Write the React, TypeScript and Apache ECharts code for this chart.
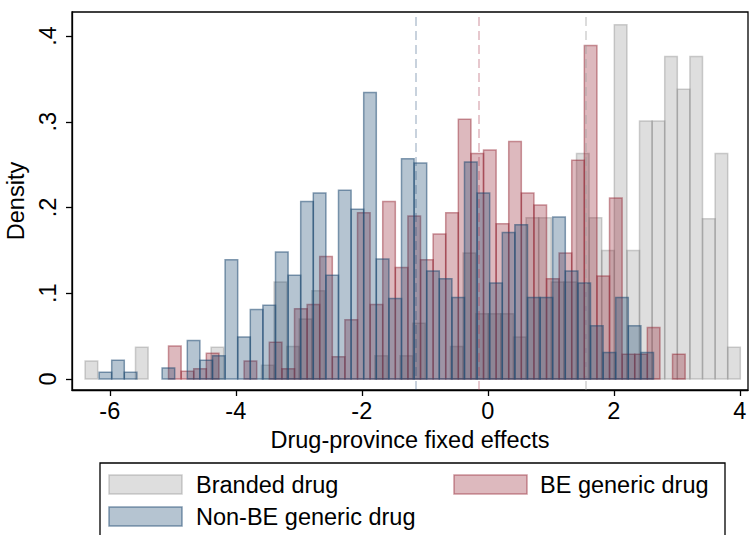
import React, { useEffect, useRef } from "react";
import * as echarts from "echarts";

// Histogram densities (bin width 0.2) for each drug group
const binWidth = 0.2;

const brandedStart = -6.392;
const brandedDensity = [
  0.021, 0, 0, 0, 0.037, 0, 0, 0, 0, 0,
  0.037, 0, 0, 0, 0.016, 0.113, 0.038, 0.07, 0.103, 0,
  0, 0, 0, 0.027, 0, 0.027, 0.065, 0, 0, 0.038,
  0.147, 0.076, 0.076, 0.076, 0.049, 0.188, 0.188, 0.113, 0.113, 0.263,
  0.188, 0.15, 0.413, 0.15, 0.301, 0.301, 0.376, 0.338, 0.376, 0.187,
  0.263, 0.037,
];

const beStart = -5.068;
const beDensity = [
  0.0385, 0.009, 0.012, 0.03, 0, 0, 0.021, 0, 0.043, 0.012,
  0.082, 0.087, 0.143, 0.026, 0.069, 0.194, 0.087, 0.207, 0.13, 0.19,
  0.139, 0.169, 0.194, 0.303, 0.263, 0.267, 0.181, 0.277, 0.217, 0.203,
  0.117, 0.147, 0.255, 0.389, 0.12, 0.211, 0.029, 0.029, 0.06, 0,
  0.029,
];

const nonBeStart = -6.17;
const nonBeDensity = [
  0.008, 0.022, 0.008, 0, 0, 0.013, 0, 0.045, 0.022, 0.027,
  0.139, 0.049, 0.081, 0.086, 0.148, 0.121, 0.207, 0.217, 0.121, 0.22,
  0.198, 0.334, 0.14, 0.094, 0.257, 0.252, 0.126, 0.117, 0.095, 0.253,
  0.217, 0.112, 0.171, 0.18, 0.095, 0.095, 0.189, 0.126, 0.112, 0.062,
  0.031, 0.095, 0.062, 0.031,
];

// Group means (dashed reference lines)
const brandedMean = 1.556;
const beMean = -0.138;
const nonBeMean = -1.154;

const xTicks = [-6, -4, -2, 0, 2, 4];
const yTicks = [0, 0.1, 0.2, 0.3, 0.4];

const FONT = "'Liberation Sans', Arial, Helvetica, sans-serif";

const GREY_FILL = "rgba(128,128,128,0.26)";
const GREY_LINE = "rgba(128,128,128,0.36)";
const GREY_MEAN = "rgba(160,160,160,0.45)";
const RED_FILL = "rgba(145,30,45,0.31)";
const RED_LINE = "rgba(145,30,45,0.45)";
const RED_MEAN = "rgba(170,60,80,0.35)";
const BLUE_FILL = "rgba(26,71,111,0.32)";
const BLUE_LINE = "rgba(26,71,111,0.52)";
const BLUE_MEAN = "rgba(26,71,111,0.3)";

function histSeries(
  name: string,
  start: number,
  dens: number[],
  fill: string,
  stroke: string,
  mean: number,
  meanColor: string
) {
  const data = dens.map((d, i) => [start + i * binWidth, start + (i + 1) * binWidth, d]);
  return {
    type: "custom",
    name,
    data,
    encode: { x: [0, 1], y: 2 },
    clip: true,
    renderItem: (_params: any, api: any) => {
      const x0 = api.value(0);
      const x1 = api.value(1);
      const y = api.value(2);
      if (!(y > 0)) return { type: "group", children: [] };
      const p0 = api.coord([x0, y]);
      const p1 = api.coord([x1, 0]);
      return {
        type: "rect",
        shape: { x: p0[0], y: p0[1], width: p1[0] - p0[0], height: p1[1] - p0[1] },
        style: { fill, stroke, lineWidth: 1.5 },
      };
    },
    markLine: {
      silent: true,
      symbol: "none",
      label: { show: false },
      lineStyle: { color: meanColor, type: [9, 5], width: 1.6 },
      data: [{ xAxis: mean }],
    },
  };
}

export default function App() {
  const ref = useRef<HTMLDivElement>(null);

  useEffect(() => {
    if (!ref.current) return;
    const chart = echarts.init(ref.current, undefined, { renderer: "svg" });
    const labelText = { fontFamily: FONT, fontSize: 23.5, color: "#000" };
    const legendFont = `23.5px ${FONT}`;

    chart.setOption({
      animation: false,
      backgroundColor: "#fff",
      grid: {
        left: 72,
        right: 3,
        top: 12,
        bottom: 145,
        containLabel: false,
        outerBoundsMode: "none",
        show: true,
        borderColor: "#000",
        borderWidth: 1.3,
        backgroundColor: "transparent",
      },
      xAxis: {
        type: "value",
        min: -6.6,
        max: 4.13,
        name: "Drug-province fixed effects",
        nameLocation: "middle",
        nameGap: 37,
        nameTextStyle: { ...labelText },
        axisLine: { show: true, onZero: false, lineStyle: { color: "#000", width: 1.3 } },
        axisTick: { show: true, length: 6, customValues: xTicks, lineStyle: { color: "#000", width: 1.3 } },
        axisLabel: { ...labelText, margin: 9, customValues: xTicks, formatter: (v: number) => String(v) },
        splitLine: { show: false },
      },
      yAxis: {
        type: "value",
        min: -0.0128,
        max: 0.428,
        name: "Density",
        nameLocation: "middle",
        nameGap: 30,
        nameRotate: 90,
        nameTextStyle: { ...labelText },
        axisLine: { show: true, onZero: false, lineStyle: { color: "#000", width: 1.3 } },
        axisTick: { show: true, length: 6, customValues: yTicks, lineStyle: { color: "#000", width: 1.3 } },
        axisLabel: {
          ...labelText,
          rotate: 90,
          margin: 12,
          customValues: yTicks,
          formatter: (v: number) => (v === 0 ? "0" : v.toFixed(1).replace(/^0/, "")),
        },
        splitLine: { show: false },
      },
      series: [
        histSeries("Branded drug", brandedStart, brandedDensity, GREY_FILL, GREY_LINE, brandedMean, GREY_MEAN),
        histSeries("BE generic drug", beStart, beDensity, RED_FILL, RED_LINE, beMean, RED_MEAN),
        histSeries("Non-BE generic drug", nonBeStart, nonBeDensity, BLUE_FILL, BLUE_LINE, nonBeMean, BLUE_MEAN),
      ],
      graphic: [
        { type: "rect", shape: { x: 100, y: 463, width: 625, height: 100 }, style: { fill: "#fff", stroke: "#000", lineWidth: 1.3 } },
        { type: "rect", shape: { x: 109, y: 475, width: 73, height: 19 }, style: { fill: GREY_FILL, stroke: GREY_LINE, lineWidth: 1.5 } },
        { type: "text", x: 196, y: 485, style: { text: "Branded drug", font: legendFont, fill: "#000", verticalAlign: "middle" } },
        { type: "rect", shape: { x: 454, y: 475, width: 73, height: 19 }, style: { fill: RED_FILL, stroke: RED_LINE, lineWidth: 1.5 } },
        { type: "text", x: 540, y: 485, style: { text: "BE generic drug", font: legendFont, fill: "#000", verticalAlign: "middle" } },
        { type: "rect", shape: { x: 109, y: 507, width: 73, height: 19 }, style: { fill: BLUE_FILL, stroke: BLUE_LINE, lineWidth: 1.5 } },
        { type: "text", x: 196, y: 517, style: { text: "Non-BE generic drug", font: legendFont, fill: "#000", verticalAlign: "middle" } },
      ],
    });

    return () => chart.dispose();
  }, []);

  return (
    <div
      ref={ref}
      style={{ position: "fixed", left: 0, top: 0, width: 751, height: 535, background: "#fff" }}
    />
  );
}
